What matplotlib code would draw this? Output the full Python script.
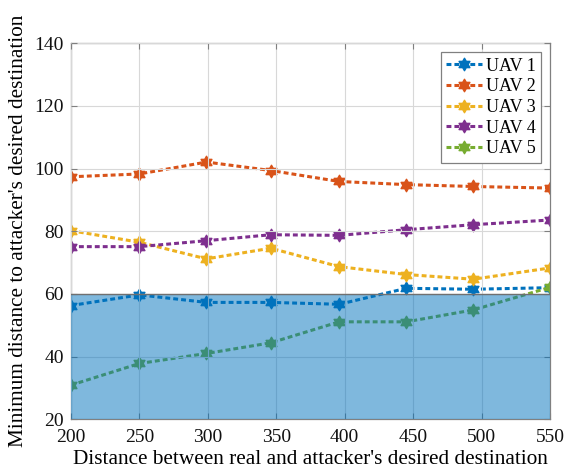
#!/usr/bin/env python3
"""
Minimum distance to attacker's desired destination vs. distance between
real and desired destination, for five UAVs.
"""
import numpy as np
import matplotlib
matplotlib.use("Agg")
import matplotlib.pyplot as plt
from matplotlib.path import Path

# distance between real and attacker's desired destination
distance = [200, 250, 299, 346, 396, 445, 494, 550]

uav1 = [56.3, 59.7, 57.3, 57.3, 56.7, 61.8, 61.5, 62.0]
uav2 = [97.4, 98.3, 102.1, 99.4, 95.9, 94.9, 94.3, 93.8]
uav3 = [80.2, 76.5, 71.2, 74.6, 68.7, 66.2, 64.7, 68.3]
uav4 = [75.1, 75.1, 77.0, 78.9, 78.7, 80.5, 82.1, 83.6]
uav5 = [30.9, 37.8, 41.0, 44.4, 51.1, 51.1, 54.9, 62.1]

series = [uav1, uav2, uav3, uav4, uav5]
labels = ["UAV 1", "UAV 2", "UAV 3", "UAV 4", "UAV 5"]
colors = ["#0072BD", "#D95319", "#EDB120", "#7E2F8E", "#77AC30"]

# safe zone threshold
threshold = 60

# MATLAB-like hexagram marker (six-pointed star)
ang = np.pi / 2 + np.arange(12) * np.pi / 6
rad = np.where(np.arange(12) % 2 == 0, 1.0, 1 / np.sqrt(3))
verts = np.column_stack([rad * np.cos(ang), rad * np.sin(ang)])
hexagram = Path(np.vstack([verts, verts[:1]]), closed=True)

plt.rcParams["font.family"] = ["Liberation Serif", "DejaVu Serif"]

fig = plt.figure(figsize=(5.66, 4.76), dpi=100)
ax = fig.add_axes([0.1254, 0.1192, 0.8463, 0.7898])

for vals, lab, col in zip(series, labels, colors):
    ax.plot(distance, vals, color=col, label=lab, linestyle=(0, (1.6, 1.0)),
            linewidth=2.2, marker=hexagram, markersize=9, zorder=2)

# shaded area below threshold, on top of the lines
ax.fill_between([200, 550], [20, 20], [threshold, threshold],
                facecolor="#0072BD", alpha=0.5, edgecolor="none", zorder=3)
ax.plot([200, 550], [threshold, threshold], color="#707070", linewidth=1.0, zorder=3)

ax.set_xlim(200, 550)
ax.set_ylim(20, 140)
ax.set_xticks(range(200, 551, 50))
ax.set_yticks(range(20, 141, 20))

ax.grid(True, color="#d8d8d8", linewidth=0.8, zorder=4)
ax.set_axisbelow(False)
for sp in ax.spines.values():
    sp.set_color("#808080")
    sp.set_linewidth(0.9)
ax.tick_params(direction="in", top=True, right=True, labelsize=14,
               color="#808080", length=4, labelcolor="#111111")
ax.tick_params(axis="x", pad=7)
ax.tick_params(axis="y", pad=5)

ax.set_xlabel("Distance between real and attacker's desired destination",
              fontsize=15.3, labelpad=3)
ax.set_ylabel("Minimum distance to attacker's desired destination",
              fontsize=15.3, labelpad=5)

leg = ax.legend(loc="upper right", fontsize=13, fancybox=False,
                edgecolor="#808080", framealpha=1, borderpad=0.3,
                labelspacing=0.2, handlelength=2.0, handletextpad=0.2,
                borderaxespad=0.5)
leg.get_frame().set_linewidth(0.9)
leg.set_zorder(10)

fig.savefig("out.png", dpi=100)
